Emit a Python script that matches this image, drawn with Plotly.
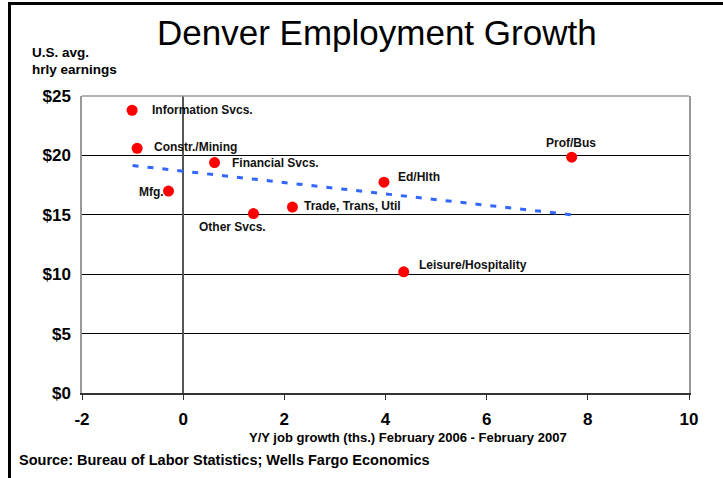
import plotly.graph_objects as go

# ---- data ----
sectors = ["Information Svcs.", "Constr./Mining", "Financial Svcs.", "Mfg.",
           "Other Svcs.", "Trade, Trans, Util", "Ed/Hlth", "Prof/Bus",
           "Leisure/Hospitality"]
job_growth = [-1.01, -0.91, 0.62, -0.29, 1.39, 2.16, 3.97, 7.68, 4.36]
hourly_earnings = [23.8, 20.6, 19.4, 17.0, 15.1, 15.65, 17.75, 19.85, 10.2]

trend_x = [-1.0, 7.68]
trend_y = [19.15, 15.0]

x_ticks = [-2, 0, 2, 4, 6, 8, 10]
x_tick_labels = ["-2", "0", "2", "4", "6", "8", "10"]
y_ticks = [0, 5, 10, 15, 20, 25]
y_tick_labels = ["$0", "$5", "$10", "$15", "$20", "$25"]

title_text = "Denver Employment Growth"
y_title_lines = ["U.S. avg.", "hrly earnings"]
x_title_text = "Y/Y job growth (ths.) February 2006 - February 2007"
source_text = "Source: Bureau of Labor Statistics; Wells Fargo Economics"

# label placement (style): xanchor, xshift, yshift in pixels
label_style = {
    "Information Svcs.": ("left", 18, 0),
    "Constr./Mining": ("left", 15, 1),
    "Financial Svcs.": ("left", 15, 0),
    "Mfg.": ("right", -3, -1),
    "Other Svcs.": ("center", -21, -13),
    "Trade, Trans, Util": ("left", 10, 1),
    "Ed/Hlth": ("left", 12, 5),
    "Prof/Bus": ("center", -1, 14),
    "Leisure/Hospitality": ("left", 13, 7),
}

W, H = 723, 478
L, R, T, B = 82, 34, 96, 85
PW, PH = W - L - R, H - T - B


def px(x):
    return (x - L) / PW


def py(y):
    return (H - B - y) / PH


FONT = "Liberation Sans, Arial, sans-serif"

fig = go.Figure()
fig.add_trace(go.Scatter(
    x=trend_x, y=trend_y, mode="lines",
    line=dict(color="#3366FF", width=3, dash="6px,9px"),
    hoverinfo="skip", showlegend=False))
fig.add_trace(go.Scatter(
    x=job_growth, y=hourly_earnings, mode="markers",
    marker=dict(color="#FF0000", size=11, line=dict(width=0)),
    showlegend=False))

annotations = []
for name, gx, hy in zip(sectors, job_growth, hourly_earnings):
    anchor, xs, ys = label_style[name]
    annotations.append(dict(
        x=gx, y=hy, xref="x", yref="y", text="<b>%s</b>" % name,
        showarrow=False, xanchor=anchor, yanchor="middle",
        xshift=xs, yshift=ys,
        font=dict(family=FONT, size=12, color="#111")))

annotations.append(dict(
    x=px(377), y=py(33), xref="paper", yref="paper", text=title_text,
    showarrow=False, xanchor="center", yanchor="middle",
    font=dict(family="Liberation Sans Narrow, Arial Narrow, Liberation Sans, sans-serif",
              size=35, color="#000")))
for i, line in enumerate(y_title_lines):
    annotations.append(dict(
        x=px(30), y=py(52 + 17 * i), xref="paper", yref="paper",
        text="<b>%s</b>" % line, showarrow=False, xanchor="left", yanchor="middle",
        font=dict(family=FONT, size=13.5, color="#000")))
annotations.append(dict(
    x=px(408), y=py(437), xref="paper", yref="paper", text="<b>%s</b>" % x_title_text,
    showarrow=False, xanchor="center", yanchor="middle",
    font=dict(family=FONT, size=13, color="#000")))
annotations.append(dict(
    x=px(17), y=py(460), xref="paper", yref="paper", text="<b>%s</b>" % source_text,
    showarrow=False, xanchor="left", yanchor="middle",
    font=dict(family=FONT, size=14.5, color="#000")))

shapes = [
    # top plot border (gray)
    dict(type="line", xref="paper", yref="paper", x0=0, x1=1, y0=1, y1=1,
         line=dict(color="#999999", width=1.5), layer="above"),
    # outer frame lines (left and top of page)
    dict(type="line", xref="paper", yref="paper", x0=px(9.5), x1=px(9.5),
         y0=py(2), y1=py(H + 5), line=dict(color="#000", width=3), layer="above"),
    dict(type="line", xref="paper", yref="paper", x0=px(8), x1=px(W + 5),
         y0=py(3.5), y1=py(3.5), line=dict(color="#000", width=3), layer="above"),
]

fig.update_layout(
    width=W, height=H,
    margin=dict(l=L, r=R, t=T, b=B),
    paper_bgcolor="white", plot_bgcolor="white",
    annotations=annotations, shapes=shapes,
    xaxis=dict(range=[-2, 10], tickvals=x_ticks, ticktext=x_tick_labels,
               showgrid=False,
               zeroline=True, zerolinecolor="#555", zerolinewidth=1.5,
               showline=True, linecolor="#333", linewidth=1.5,
               ticks="outside", ticklen=5, tickcolor="#333", tickwidth=1,
               ticklabelstandoff=5,
               tickfont=dict(family=FONT, size=17, color="#000", weight="bold"),
               fixedrange=True),
    yaxis=dict(range=[0, 25], tickvals=y_ticks, ticktext=y_tick_labels,
               showgrid=True, gridcolor="#000", gridwidth=1,
               zeroline=False, showline=True, linecolor="#999", linewidth=1.5,
               mirror=True, ticks="", ticklabelstandoff=6,
               tickfont=dict(family=FONT, size=17, color="#000", weight="bold"),
               fixedrange=True),
    font=dict(family=FONT),
)

fig.write_html("out.html")
